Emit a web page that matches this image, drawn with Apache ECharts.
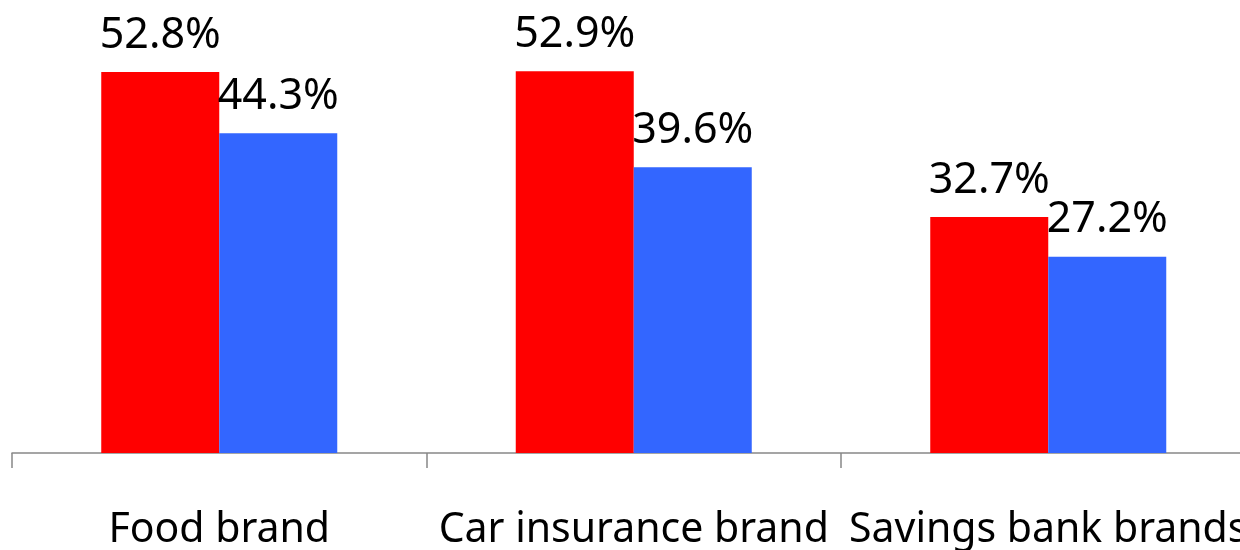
<!DOCTYPE html>
<html><head><meta charset="utf-8">
<script src="https://cdn.jsdelivr.net/npm/echarts@6/dist/echarts.min.js"></script>
<style>html,body{margin:0;padding:0;background:#fff}#c{width:1240px;height:550px}</style>
</head><body><div id="c"></div>
<script>
const categories = ['Food brand', 'Car insurance brand', 'Savings bank brands'];
const seriesRed = [52.8, 52.9, 32.7];
const seriesBlue = [44.3, 39.6, 27.2];

const chart = echarts.init(document.getElementById('c'), null, {renderer: 'canvas'});
const lbl = {show: true, position: 'top', distance: 15, color: '#000', fontFamily: 'Noto Sans', fontSize: 43,
  formatter: p => p.value.toFixed(1) + '%'};
chart.setOption({
  animation: false,
  grid: {left: 12, width: 1243.5, top: 20, height: 433, outerBoundsMode: 'none'},
  xAxis: {type: 'category', data: categories,
    axisLine: {lineStyle: {color: '#888', width: 1.5}},
    axisTick: {show: true, length: 15, lineStyle: {color: '#888', width: 1.5}},
    axisLabel: {color: '#000', fontFamily: 'Noto Sans', fontSize: 41, margin: 57, interval: 0}},
  yAxis: {type: 'value', min: 0, max: 60, show: false, splitLine: {show: false}},
  series: [
    {type: 'bar', data: seriesRed, barWidth: 118, barGap: '0%', itemStyle: {color: '#FF0000'}, label: lbl},
    {type: 'bar', data: seriesBlue, barWidth: 118, itemStyle: {color: '#3366FF'}, label: lbl}
  ]
});
</script></body></html>
